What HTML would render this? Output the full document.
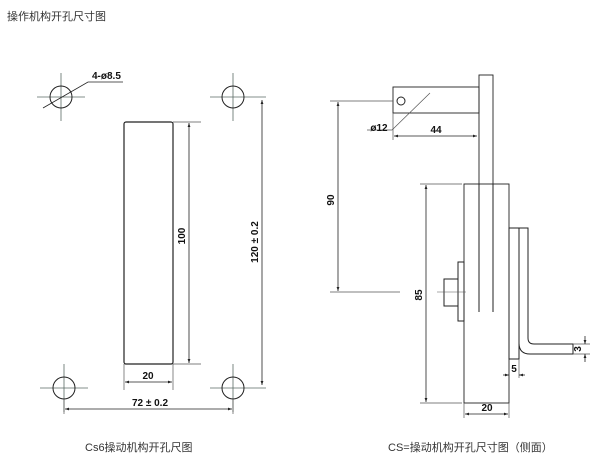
<!DOCTYPE html>
<html><head><meta charset="utf-8"><style>
html,body{margin:0;padding:0;background:#fff;width:600px;height:474px;overflow:hidden}
svg{display:block}
text{font-family:"Liberation Sans","Noto Sans CJK SC",sans-serif}
</style></head><body>
<svg width="600" height="474" viewBox="0 0 600 474" xmlns="http://www.w3.org/2000/svg">
<defs>
<marker id="a" viewBox="0 0 10 10" refX="10" refY="5" markerWidth="5" markerHeight="5" orient="auto-start-reverse"><path d="M0,1.5 L10,5 L0,8.5z" fill="#222"/></marker>
</defs>
<text x="7" y="20" font-size="11" fill="#333">操作机构开孔尺寸图</text>

<g stroke="#222" fill="none" stroke-width="1">
<!-- holes -->
<g stroke="#5a6a64" stroke-width="0.8">
<line x1="37" y1="97" x2="85" y2="97"/><line x1="61" y1="73" x2="61" y2="121"/>
<line x1="210" y1="97" x2="266" y2="97"/><line x1="233" y1="73" x2="233" y2="121"/>
<line x1="40" y1="388" x2="88" y2="388"/><line x1="64" y1="364" x2="64" y2="412"/>
<line x1="210" y1="388" x2="266" y2="388"/><line x1="233" y1="364" x2="233" y2="412"/>
</g>
<circle cx="61" cy="97" r="11"/><circle cx="233" cy="97" r="11"/>
<circle cx="64" cy="388" r="11"/><circle cx="233" cy="388" r="11"/>
<polyline points="43,108 88,82 123,82" stroke-width="0.8"/>
<!-- rect -->
<rect x="124" y="122" width="49" height="242" rx="2" stroke-width="1.2"/>
<g stroke-width="0.7" stroke="#555">
<line x1="173" y1="122" x2="201" y2="122"/><line x1="173" y1="364" x2="201" y2="364"/>
<line x1="124" y1="364" x2="124" y2="390"/><line x1="173" y1="364" x2="173" y2="390"/>
<line x1="64" y1="399" x2="64" y2="414"/><line x1="233" y1="399" x2="233" y2="414"/>
</g>
<line x1="189" y1="123" x2="189" y2="363" stroke-width="0.8" marker-start="url(#a)" marker-end="url(#a)"/>
<line x1="262" y1="100" x2="262" y2="385" stroke-width="0.8" marker-start="url(#a)" marker-end="url(#a)"/>
<line x1="125" y1="382" x2="172" y2="382" stroke-width="0.8" marker-start="url(#a)" marker-end="url(#a)"/>
<line x1="65" y1="409" x2="232" y2="409" stroke-width="0.8" marker-start="url(#a)" marker-end="url(#a)"/>

<!-- right view -->
<rect x="479" y="75" width="14" height="237" stroke-width="0.9"/>
<rect x="393" y="87" width="86" height="26" stroke-width="0.9"/>
<circle cx="401" cy="101" r="4"/>
<rect x="464" y="184" width="45" height="219" fill="#fff" stroke-width="0.9"/>
<line x1="479" y1="184" x2="479" y2="312"/><line x1="493" y1="184" x2="493" y2="312"/>
<rect x="458" y="262" width="6" height="59"/>
<rect x="444" y="279" width="14" height="27"/>
<line x1="437" y1="292" x2="466" y2="292" stroke-width="0.6" stroke="#555"/>
<rect x="509" y="228" width="10" height="131"/>
<path d="M519,228 L528,228 L528,338 Q528,344 534,344 L573,344 L573,354 L530,354 Q519,354 519,343 Z"/>
<g stroke-width="0.7" stroke="#555">
<polyline points="367,130 392,130 430,93"/>
<line x1="330" y1="101" x2="393" y2="101"/><line x1="330" y1="292" x2="400" y2="292"/>
<line x1="393" y1="113" x2="393" y2="140"/>
<line x1="420" y1="184" x2="462" y2="184"/><line x1="420" y1="403" x2="462" y2="403"/>
<line x1="464" y1="403" x2="464" y2="418"/><line x1="509" y1="403" x2="509" y2="418"/>
<line x1="519" y1="359" x2="519" y2="378"/>
<line x1="573" y1="344" x2="590" y2="344"/><line x1="573" y1="354" x2="590" y2="354"/>
</g>
<line x1="394" y1="136" x2="477" y2="136" stroke-width="0.8" marker-start="url(#a)" marker-end="url(#a)"/>
<line x1="338" y1="102" x2="338" y2="291" stroke-width="0.8" marker-start="url(#a)" marker-end="url(#a)"/>
<line x1="426" y1="185" x2="426" y2="402" stroke-width="0.8" marker-start="url(#a)" marker-end="url(#a)"/>
<line x1="465" y1="414" x2="508" y2="414" stroke-width="0.8" marker-start="url(#a)" marker-end="url(#a)"/>
<line x1="503" y1="375" x2="509" y2="375" stroke-width="0.8" marker-end="url(#a)"/>
<line x1="525" y1="375" x2="519" y2="375" stroke-width="0.8" marker-end="url(#a)"/>
<line x1="585" y1="336" x2="585" y2="344" stroke-width="0.8" marker-end="url(#a)"/>
<line x1="585" y1="362" x2="585" y2="354" stroke-width="0.8" marker-end="url(#a)"/>
</g>

<g font-size="10" fill="#111" font-weight="bold">
<text x="92" y="79">4-ø8.5</text>
<text x="148" y="379" text-anchor="middle">20</text>
<text x="150" y="406" text-anchor="middle">72 ± 0.2</text>
<text transform="translate(185,236) rotate(-90)" text-anchor="middle">100</text>
<text transform="translate(258,242) rotate(-90)" text-anchor="middle">120 ± 0.2</text>
<text x="379" y="131" text-anchor="middle">ø12</text>
<text x="436" y="133" text-anchor="middle">44</text>
<text transform="translate(334,200) rotate(-90)" text-anchor="middle">90</text>
<text transform="translate(422,295) rotate(-90)" text-anchor="middle">85</text>
<text x="487" y="411" text-anchor="middle">20</text>
<text x="514" y="372" text-anchor="middle">5</text>
<text transform="translate(581,349) rotate(-90)" text-anchor="middle">3</text>
</g>
<text x="85" y="451" font-size="11" fill="#333">Cs6操动机构开孔尺图</text>
<text x="388" y="451" font-size="11" fill="#333">CS=操动机构开孔尺寸图（侧面）</text>
</svg>
</body></html>
